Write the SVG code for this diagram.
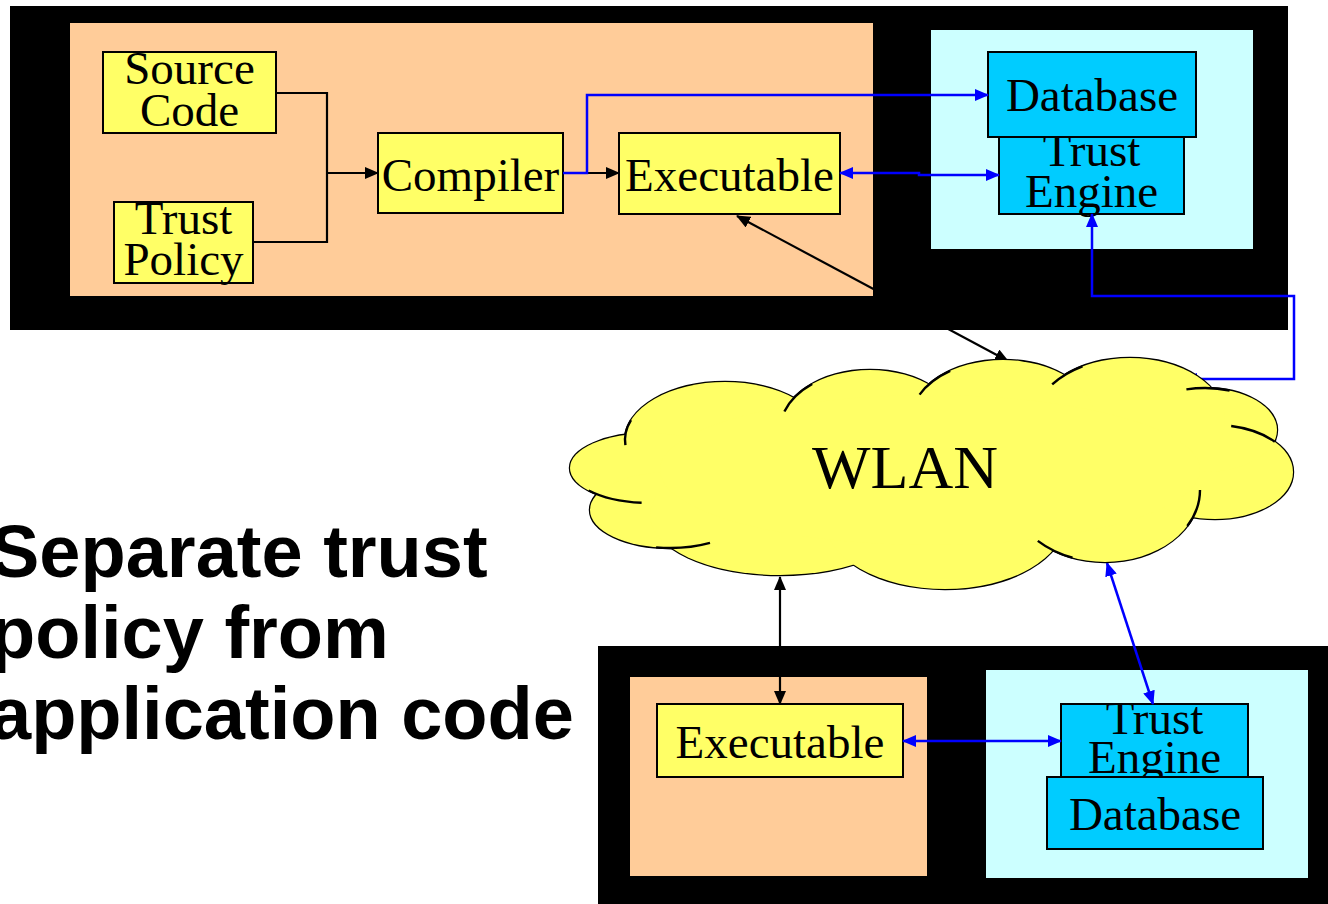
<svg xmlns="http://www.w3.org/2000/svg" xmlns:xlink="http://www.w3.org/1999/xlink" width="1328" height="904" viewBox="0 0 1328 904">
  <style>
    .frame { fill: #000000; }
    .host { fill: #FFCC99; }
    .trust-area { fill: #CCFFFF; }
    .box { fill: #FFFF66; stroke: #000000; stroke-width: 2; }
    .tbox { fill: #00CCFF; stroke: #000000; stroke-width: 2; }
    .lbl { font-family: "Liberation Serif", "Times New Roman", serif; font-size: 47px; fill: #000000; text-anchor: middle; }
    .wire { fill: none; stroke: #000000; stroke-width: 2.2; }
    .wire-b { fill: none; stroke: #0000FF; stroke-width: 2.5; }
    .edge { fill: #FFFF66; stroke: #000000; stroke-width: 2.4; }
    .fillonly { fill: #FFFF66; stroke: none; }
    .tail { fill: none; stroke: #000000; stroke-width: 2.4; }
    .caption { font-family: "Liberation Sans", Arial, sans-serif; font-weight: bold; font-size: 74px; fill: #000000; }
  </style>
  <defs>
    <marker id="ak" viewBox="0 0 14 12" refX="13" refY="6" markerWidth="14" markerHeight="12" markerUnits="userSpaceOnUse" orient="auto-start-reverse">
      <path d="M0,0 L14,6 L0,12 z" fill="#000000"/>
    </marker>
    <marker id="ab" viewBox="0 0 14 12" refX="13" refY="6" markerWidth="14" markerHeight="12" markerUnits="userSpaceOnUse" orient="auto-start-reverse">
      <path d="M0,0 L14,6 L0,12 z" fill="#0000FF"/>
    </marker>
    <!-- puffs that make up the cloud outline -->
    <g id="puffs">
      <ellipse cx="725" cy="440" rx="100" ry="58"/>
      <ellipse cx="650" cy="468" rx="80" ry="35"/>
      <ellipse cx="670" cy="510" rx="80" ry="38"/>
      <ellipse cx="780" cy="515" rx="130" ry="60"/>
      <ellipse cx="945" cy="520" rx="120" ry="69"/>
      <ellipse cx="1105" cy="490" rx="95" ry="72"/>
      <ellipse cx="1215" cy="472" rx="78" ry="47"/>
      <ellipse cx="1205" cy="430" rx="72" ry="42"/>
      <ellipse cx="1130" cy="420" rx="95" ry="62"/>
      <ellipse cx="1003" cy="420" rx="92" ry="60"/>
      <ellipse cx="870" cy="430" rx="90" ry="60"/>
    </g>
  </defs>

  <rect width="1328" height="904" fill="#FFFFFF"/>

  <!-- upper host -->
  <g id="host-top">
    <rect class="frame" x="10" y="6" width="1278" height="324"/>
    <rect class="host" x="70" y="23" width="803" height="273"/>
    <rect class="trust-area" x="931" y="30" width="322" height="219"/>
  </g>

  <g id="source-code">
    <rect class="box" x="103" y="52" width="173" height="81"/>
    <text class="lbl" x="189.5" y="84">Source</text>
    <text class="lbl" x="189.5" y="126">Code</text>
  </g>
  <g id="trust-policy">
    <rect class="box" x="114" y="202" width="139" height="81"/>
    <text class="lbl" x="183.5" y="234">Trust</text>
    <text class="lbl" x="183.5" y="275">Policy</text>
  </g>
  <g id="compiler">
    <rect class="box" x="378" y="133" width="185" height="80"/>
    <text class="lbl" x="470.5" y="191">Compiler</text>
  </g>
  <g id="executable-top">
    <rect class="box" x="619" y="133" width="221" height="81"/>
    <text class="lbl" x="729.5" y="191">Executable</text>
  </g>
  <g id="trust-engine-top">
    <rect class="tbox" x="999" y="137" width="185" height="77"/>
    <text class="lbl" x="1091.5" y="166">Trust</text>
    <text class="lbl" x="1091.5" y="207">Engine</text>
  </g>
  <g id="database-top">
    <rect class="tbox" x="988" y="52" width="208" height="85"/>
    <text class="lbl" x="1092" y="111">Database</text>
  </g>

  <!-- lower host -->
  <g id="host-bottom">
    <rect class="frame" x="598" y="646" width="730" height="258"/>
    <rect class="host" x="630" y="677" width="297" height="199"/>
    <rect class="trust-area" x="986" y="670" width="322" height="208"/>
  </g>
  <g id="executable-bottom">
    <rect class="box" x="657" y="704" width="246" height="73"/>
    <text class="lbl" x="780" y="758">Executable</text>
  </g>
  <g id="trust-engine-bottom">
    <rect class="tbox" x="1061" y="704" width="187" height="73"/>
    <text class="lbl" x="1154.5" y="734">Trust</text>
    <text class="lbl" x="1154.5" y="773">Engine</text>
  </g>
  <g id="database-bottom">
    <rect class="tbox" x="1047" y="777" width="216" height="72"/>
    <text class="lbl" x="1155" y="830">Database</text>
  </g>

  <!-- connectors -->
  <g id="connectors">
    <path class="wire" d="M276,93 H327 V242 H253"/>
    <path class="wire" d="M327,173 H378" marker-end="url(#ak)"/>
    <path class="wire" d="M563,173 H619" marker-end="url(#ak)"/>
    <path class="wire-b" d="M563,173 H587 V95 H988" marker-end="url(#ab)"/>
    <path class="wire-b" d="M840,173 H919 V175 H999" marker-start="url(#ab)" marker-end="url(#ab)"/>
    <path class="wire-b" d="M1092,214 V296 H1294 V379 H1184" marker-start="url(#ab)" marker-end="url(#ab)"/>
    <path class="wire" d="M737,216 L1008,361" marker-start="url(#ak)" marker-end="url(#ak)"/>
    <path class="wire" d="M780,577 V704" marker-start="url(#ak)" marker-end="url(#ak)"/>
    <path class="wire-b" d="M1107,563 L1153,704" marker-start="url(#ab)" marker-end="url(#ab)"/>
    <path class="wire-b" d="M903,741 H1061" marker-start="url(#ab)" marker-end="url(#ab)"/>
  </g>

  <!-- WLAN cloud -->
  <g id="wlan">
    <use xlink:href="#puffs" class="edge"/>
    <use xlink:href="#puffs" class="fillonly"/>
    <ellipse class="fillonly" cx="930" cy="470" rx="270" ry="75"/>
    <path class="tail" d="M631.0,420.2 A100,58 0 0 0 625.4,445.1"/>
    <path class="tail" d="M588.7,490.5 A80,35 0 0 0 641.6,502.8"/>
    <path class="tail" d="M656.1,547.4 A80,38 0 0 0 710,542.9"/>
    <path class="tail" d="M1072.5,557.7 A95,72 0 0 1 1037.8,540.9"/>
    <path class="tail" d="M1187.3,526 A95,72 0 0 0 1200,490"/>
    <path class="tail" d="M1274.8,441.8 A78,47 0 0 0 1231.2,426"/>
    <path class="tail" d="M1229.6,390.5 A72,42 0 0 0 1186.4,389.4"/>
    <path class="tail" d="M1082.5,366.3 A95,62 0 0 0 1052.2,384.4"/>
    <path class="tail" d="M950.2,370.9 A92,60 0 0 0 919.6,394.6"/>
    <path class="tail" d="M812.2,384 A90,60 0 0 0 784.4,411.5"/>
    <text x="905" y="488" font-family="Liberation Serif, 'Times New Roman', serif" font-size="62" text-anchor="middle" fill="#000000">WLAN</text>
  </g>

  <!-- caption -->
  <g id="caption">
    <text class="caption" x="-10" y="577">Separate trust</text>
    <text class="caption" x="-10" y="658">policy from</text>
    <text class="caption" x="-10" y="739">application code</text>
  </g>
</svg>
